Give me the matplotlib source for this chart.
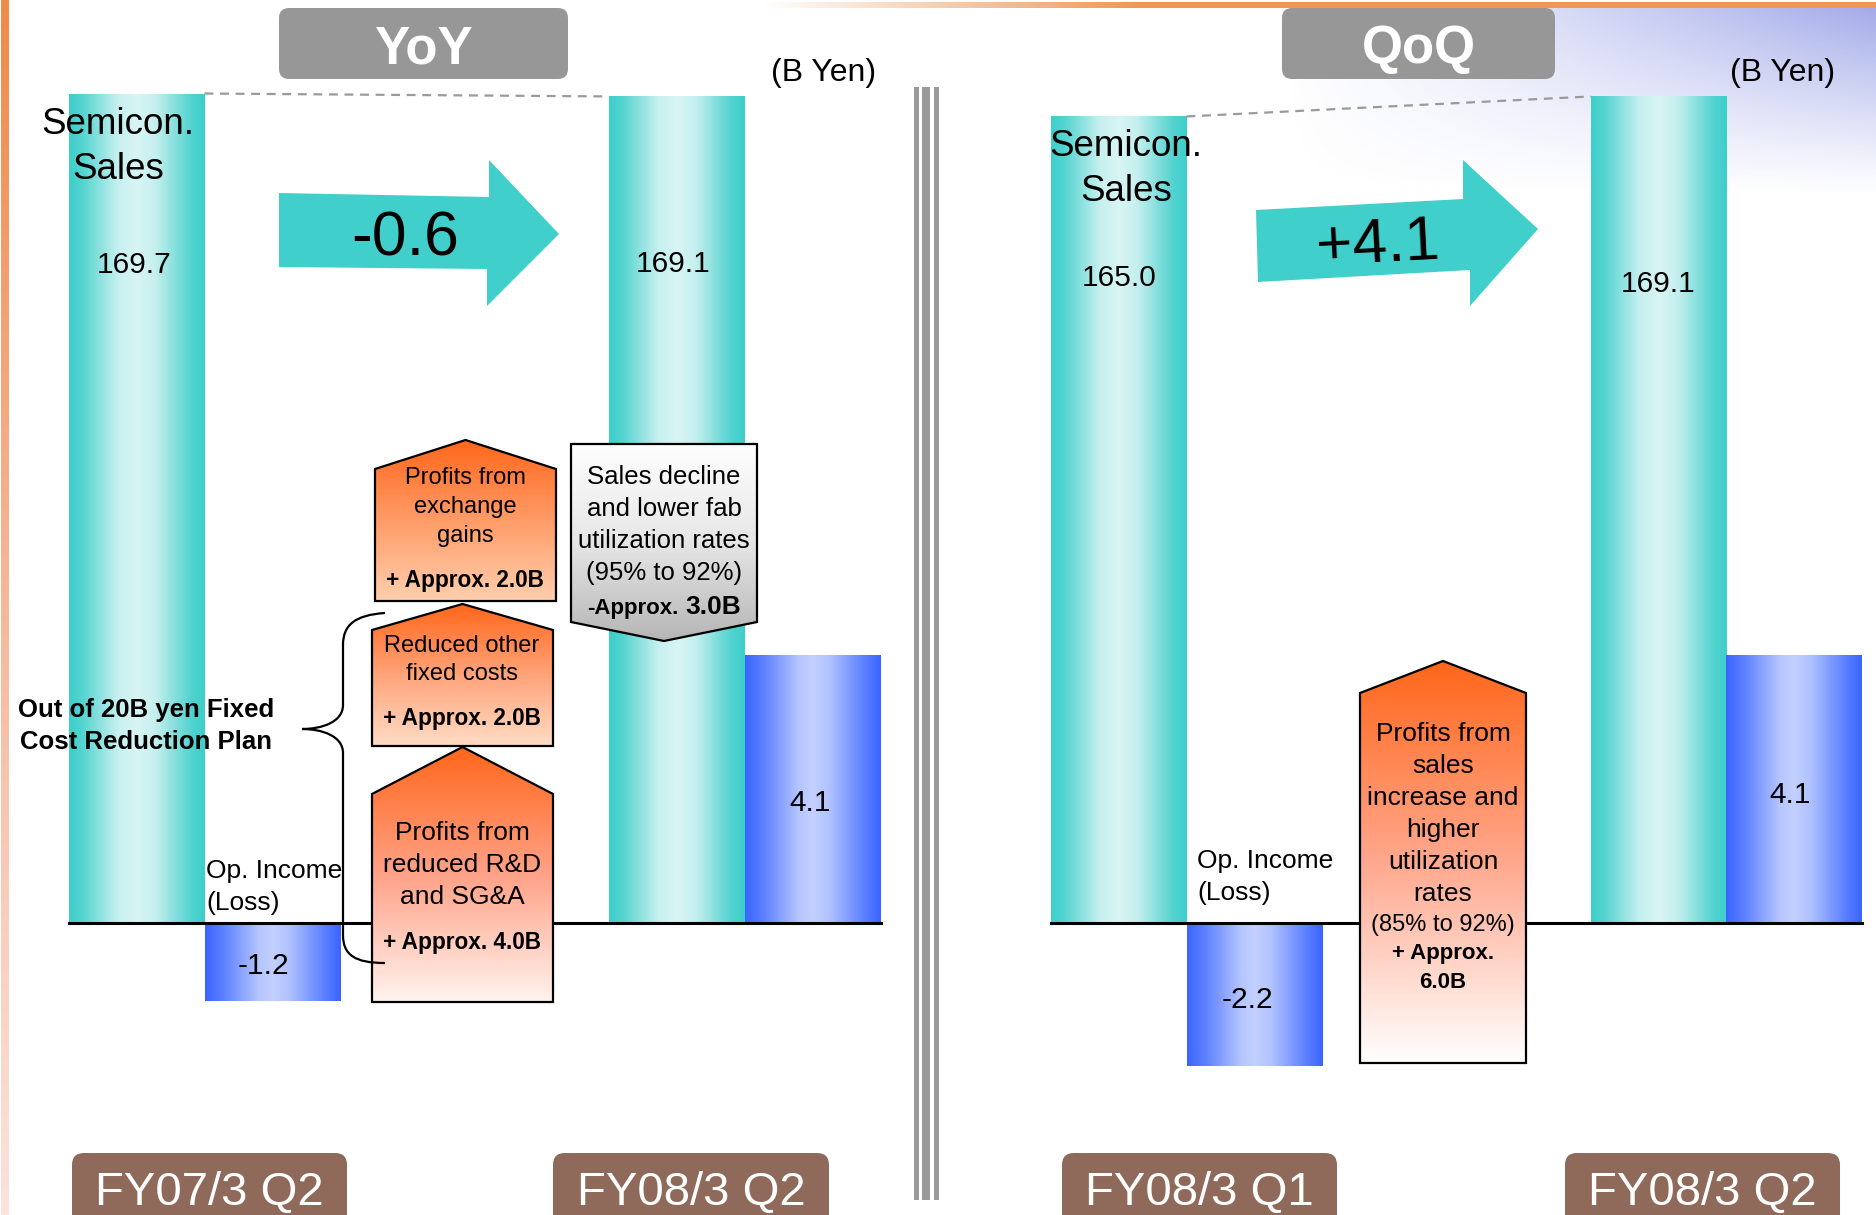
import numpy as np
import matplotlib.pyplot as plt
from matplotlib.patches import Polygon, FancyBboxPatch, Rectangle, PathPatch
from matplotlib.path import Path
from matplotlib.colors import LinearSegmentedColormap

plt.rcParams['font.family'] = ['Liberation Sans', 'DejaVu Sans']

# data (B Yen)
periods = ['FY07/3 Q2', 'FY08/3 Q2', 'FY08/3 Q1', 'FY08/3 Q2']
sales = [169.7, 169.1, 165.0, 169.1]
op_income = [-1.2, 4.1, -2.2, 4.1]
panel_titles = ['YoY', 'QoQ']
sales_change = ['-0.6', '+4.1']
unit_label = '(B Yen)'

# layout in pixels of the 1876x1215 picture
W, H = 1876, 1215
base_y = 922.5          # pixel row of the zero line
sales_px = 4.885        # pixels per B yen for sales bars
op_px = 65.3            # pixels per B yen for op. income bars
bar_w = 136
sales_x = [136.5, 677, 1118.5, 1659]
op_x = [272.5, 813, 1254.5, 1794]

fig = plt.figure(figsize=(W / 100, H / 100), dpi=100)
ax_bg = fig.add_axes([0, 0, 1, 1], zorder=0)
ax_s = fig.add_axes([0, 0, 1, 1], zorder=1)
ax_o = fig.add_axes([0, 0, 1, 1], zorder=2)
ax = fig.add_axes([0, 0, 1, 1], zorder=3)
for a in (ax_s, ax_o, ax):
    a.patch.set_visible(False)


def hgrad(stops):
    return LinearSegmentedColormap.from_list('', stops)


cyan = hgrad([(0, '#3DCFCB'), (0.1, '#55D4D0'), (0.36, '#C6F0EF'), (0.5, '#D8F5F4'),
              (0.64, '#C4EFEE'), (0.9, '#52D3CF'), (1, '#3DCFCB')])
blue = hgrad([(0, '#3A64FF'), (0.14, '#5F82FF'), (0.4, '#B6C6FF'), (0.5, '#C3D0FF'),
              (0.62, '#B0C2FF'), (0.88, '#5C7FFF'), (1, '#3A64FF')])
row = np.linspace(0, 1, 256).reshape(1, -1)
col = np.linspace(0, 1, 256).reshape(-1, 1)

# ---- background decoration (pixel coords) ----
# orange stripe on the left edge
stripe = hgrad(['#F08A4A', '#F6B89A', '#FCE3DC'])
ax_bg.imshow(col, cmap=stripe, extent=(1, 9, H, 0), aspect='auto')
# orange line on top
top_rgba = np.zeros((1, 400, 4))
top_rgba[..., 0], top_rgba[..., 1], top_rgba[..., 2] = 0.93, 0.60, 0.35
top_rgba[..., 3] = np.clip(np.linspace(-0.3, 3.0, 400), 0, 1)
ax_bg.imshow(top_rgba, extent=(650, W, 8, 2), aspect='auto')
# lavender haze at top right
xx, yy = np.meshgrid(np.linspace(0, 1, 300), np.linspace(0, 1, 200))
haze = np.zeros((200, 300, 4))
haze[..., 0], haze[..., 1], haze[..., 2] = 0.42, 0.47, 0.86
haze[..., 3] = 0.62 * np.clip(xx, 0, 1) ** 1.1 * (1 - yy) ** 1.1
ax_bg.imshow(haze, extent=(1280, W, 195, 8), aspect='auto')

# separator between the two panels
for x0, w in [(914, 4.5), (922, 8), (934, 5)]:
    ax_bg.add_patch(Rectangle((x0, 87), w, 1113, color='#9A9A9A', lw=0))

# ---- bars ----
bars = ax_s.bar(sales_x, sales, width=bar_w, color='none', edgecolor='none')
for b, v in zip(bars, sales):
    im = ax_s.imshow(row, cmap=cyan, extent=(b.get_x(), b.get_x() + bar_w, 0, v), aspect='auto')
    im.set_clip_path(b)
bars = ax_o.bar(op_x, op_income, width=bar_w, color='none', edgecolor='none')
for b, v in zip(bars, op_income):
    im = ax_o.imshow(row, cmap=blue, extent=(b.get_x(), b.get_x() + bar_w, min(0, v), max(0, v)),
                     aspect='auto')
    im.set_clip_path(b)

# dashed connectors between sales bars, zero lines
for i in (0, 2):
    ax_s.plot([sales_x[i] + bar_w / 2, sales_x[i + 1] - bar_w / 2], [sales[i], sales[i + 1]],
              ls=(0, (4, 3)), color='#9A9A9A', lw=1.6)
    ax_o.plot([sales_x[i] - bar_w / 2, op_x[i + 1] + bar_w / 2], [0, 0], color='black', lw=2.2)

# ---- foreground annotations (pixel coords) ----
# panel titles
for (x0, x1), t in zip([(279, 568), (1282, 1555)], panel_titles):
    ax.add_patch(FancyBboxPatch((x0 + 10, 18), x1 - x0 - 20, 51,
                                boxstyle='round,pad=10', color='#979797', lw=0))
    ax.text((x0 + x1) / 2, 49, t, ha='center', va='center', color='white',
            fontsize=38, fontweight='bold')
for x in (824, 1783):
    ax.text(x, 73, unit_label, ha='center', va='center', fontsize=23)

# period labels at the bottom
for (x0, x1), p in zip([(72, 347), (553, 829), (1062, 1337), (1565, 1840)], periods):
    ax.add_patch(FancyBboxPatch((x0 + 12, 1165), x1 - x0 - 24, 80,
                                boxstyle='round,pad=12', color='#8F6A5A', lw=0))
    ax.text((x0 + x1) / 2, 1193, p, ha='center', va='center', color='white', fontsize=34)

# big change arrows
arrows = [
    [(279, 193), (489, 197), (489, 160), (559, 234), (487, 306), (487, 269), (279, 267)],
    [(1256, 210), (1463, 199), (1463, 160), (1538, 229), (1470, 306), (1470, 270), (1258, 282)],
]
for verts in arrows:
    ax.add_patch(Polygon(verts, closed=True, facecolor='#41CFCB', edgecolor='none'))
ax.text(405, 239, sales_change[0], ha='center', va='center', fontsize=45)
ax.text(1378, 245, sales_change[1], ha='center', va='center', fontsize=45, rotation=3)

# bar labels
for cx, cy in [(118, 147), (1126, 169)]:
    ax.text(cx, cy, 'Semicon.\nSales', ha='center', va='center', fontsize=26.5, linespacing=1.38)
for (x, y), v in zip([(134, 265), (673, 264), (1119, 278), (1658, 284)], sales):
    ax.text(x, y, f'{v:.1f}', ha='center', va='center', fontsize=21.5)
for (x, y), v in zip([(263, 966), (810, 803), (1247, 1000), (1790, 795)], op_income):
    ax.text(x, y, f'{v:.1f}', ha='center', va='center', fontsize=21.5)
for x, y in [(206, 887), (1197, 877)]:
    ax.text(x, y, 'Op. Income\n(Loss)', ha='left', va='center', fontsize=19, linespacing=1.45)


def grad_poly(verts, stops, edge='black'):
    poly = Polygon(verts, closed=True, facecolor='none', edgecolor=edge, lw=1.6, zorder=3)
    ax.add_patch(poly)
    xs = [v[0] for v in verts]
    ys = [v[1] for v in verts]
    im = ax.imshow(col, cmap=hgrad(stops), extent=(min(xs), max(xs), max(ys), min(ys)),
                   origin='upper', aspect='auto', zorder=2)
    im.set_clip_path(poly)


def house(x0, x1, peak, shoulder, bottom):
    return [(x0, bottom), (x0, shoulder), ((x0 + x1) / 2, peak), (x1, shoulder), (x1, bottom)]


# cost items (left panel)
grad_poly(house(375, 556, 440, 469, 601), ['#FF661A', '#FF9C68', '#FFCFAE'])
grad_poly(house(372, 553, 604, 630, 746), ['#FF661A', '#FFA47A', '#FFDCC6'])
grad_poly(house(372, 553, 747, 794, 1002), ['#FF661A', '#FFA288', '#FFF3EE'])
grad_poly([(571, 444), (757, 444), (757, 622), (664, 641), (571, 622)],
          ['#FFFFFF', '#E6E6E6', '#B5B5B5'])
# right panel item
grad_poly(house(1360, 1526, 661, 693, 1063), ['#FF661A', '#FFA88E', '#FFFFFF'])

ax.text(465, 507, 'Profits from\nexchange\ngains', ha='center', va='center', fontsize=17,
        linespacing=1.4)
ax.text(465, 581, '+ Approx. 2.0B', ha='center', va='center', fontsize=16.3, fontweight='bold')
ax.text(462, 660, 'Reduced other\nfixed costs', ha='center', va='center', fontsize=17,
        linespacing=1.4)
ax.text(462, 719, '+ Approx. 2.0B', ha='center', va='center', fontsize=16.3, fontweight='bold')
ax.text(462, 865, 'Profits from\nreduced R&D\nand SG&A', ha='center', va='center', fontsize=19,
        linespacing=1.4)
ax.text(462, 943, '+ Approx. 4.0B', ha='center', va='center', fontsize=16.3, fontweight='bold')
ax.text(664, 525, 'Sales decline\nand lower fab\nutilization rates\n(95% to 92%)', ha='center',
        va='center', fontsize=18.5, linespacing=1.42)
ax.text(679, 614, '-Approx.', ha='right', va='baseline', fontsize=16, fontweight='bold')
ax.text(685, 614, '3.0B', ha='left', va='baseline', fontsize=19, fontweight='bold')
ax.text(1443, 814, 'Profits from\nsales\nincrease and\nhigher\nutilization\nrates', ha='center',
        va='center', fontsize=19, linespacing=1.42)
ax.text(1443, 925, '(85% to 92%)', ha='center', va='center', fontsize=17)
ax.text(1443, 968, '+ Approx.\n6.0B', ha='center', va='center', fontsize=16, fontweight='bold',
        linespacing=1.5)

# curly brace for the fixed cost reduction plan
brace = Path([(385, 613), (355, 615), (343, 625), (343, 645),
              (343, 705), (343, 722), (322, 729), (302, 729),
              (322, 729), (343, 736), (343, 753),
              (343, 935), (343, 955), (355, 963), (385, 963)],
             [Path.MOVETO, Path.CURVE4, Path.CURVE4, Path.CURVE4,
              Path.LINETO, Path.CURVE4, Path.CURVE4, Path.CURVE4,
              Path.CURVE4, Path.CURVE4, Path.CURVE4,
              Path.LINETO, Path.CURVE4, Path.CURVE4, Path.CURVE4])
ax.add_patch(PathPatch(brace, facecolor='none', edgecolor='black', lw=1.6, zorder=4))
ax.text(146, 726, 'Out of 20B yen Fixed\nCost Reduction Plan', ha='center', va='center',
        fontsize=18.5, fontweight='bold', linespacing=1.47, zorder=4)

# axis limits last so imshow does not change them
for a in (ax_bg, ax):
    a.set_xlim(0, W)
    a.set_ylim(H, 0)
ax_s.set_xlim(0, W)
ax_s.set_ylim(-(H - base_y) / sales_px, base_y / sales_px)
ax_o.set_xlim(0, W)
ax_o.set_ylim(-(H - base_y) / op_px, base_y / op_px)
for a in (ax_bg, ax_s, ax_o, ax):
    a.axis('off')

fig.savefig('out.png', dpi=100)
